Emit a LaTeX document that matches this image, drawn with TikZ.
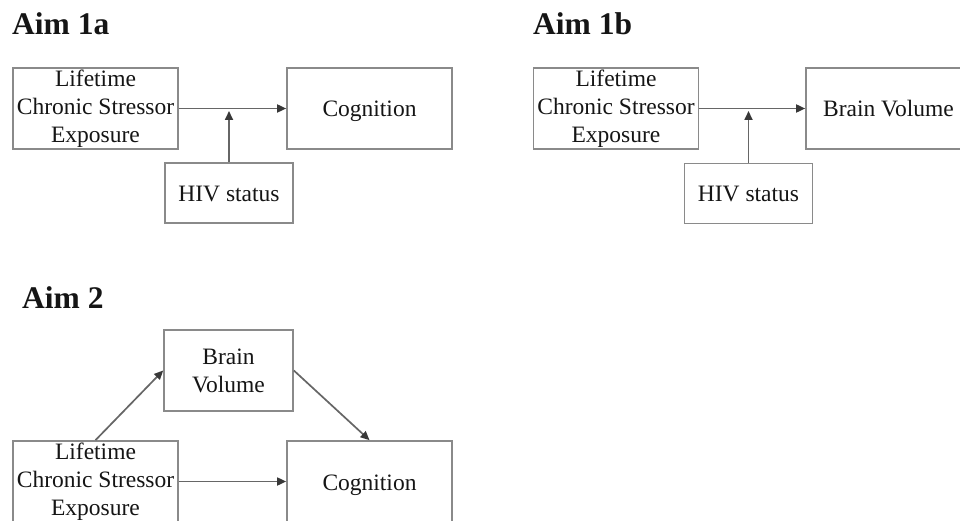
\documentclass[tikz,border=0pt]{standalone}
\usepackage{fontspec}
\setmainfont{Liberation Serif}
\usetikzlibrary{arrows.meta}
\definecolor{boxgray}{HTML}{8A8A8A}
\definecolor{linegray}{HTML}{666666}
\definecolor{ink}{HTML}{151515}
\begin{document}
\begin{tikzpicture}[x=1pt,y=-1pt,
  box/.style={draw=boxgray,line width=1.7pt,rectangle,inner sep=0pt,align=center,
    font=\fontsize{23.5}{28}\selectfont,text=ink},
  bigbox/.style={box,minimum width=165pt,minimum height=81pt},
  hivbox/.style={box,minimum width=128pt,minimum height=60pt},
  oneline/.style={text height=22pt,text depth=5pt},
  conn/.style={draw=linegray,line width=1.7pt,-{Triangle[length=9pt,width=8pt,color=ink!85]}},
  title/.style={font=\fontsize{31.5}{36}\selectfont\bfseries,text=ink,inner sep=0pt,anchor=base west}]
\useasboundingbox (0,0) rectangle (960,521);
\fill[white] (0,0) rectangle (960,521);
\clip (0,0) rectangle (960,521);

% Aim 1a
\node[title] (t1a) at (12,35) {Aim 1a};
\node[bigbox] (a1L) at (95.5,108.5) {Lifetime\\Chronic Stressor\\Exposure};
\node[bigbox,oneline] (a1C) at (369.5,108.5) {Cognition};
\node[hivbox,oneline] (a1H) at (229,193) {HIV status};
\coordinate (a1M) at (229,111);
\draw[conn] (a1L.east) -- (a1C.west);
\draw[conn] (a1H.north) -- (a1M);

% Aim 1b
\node[title] (t1b) at (533,35) {Aim 1b};
\node[bigbox] (b1L) at (616,108.5) {Lifetime\\Chronic Stressor\\Exposure};
\node[bigbox,oneline] (b1B) at (888.5,108.5) {Brain Volume};
\node[hivbox,oneline] (b1H) at (748.5,193.5) {HIV status};
\coordinate (b1M) at (748.5,111);
\draw[conn] (b1L.east) -- (b1B.west);
\draw[conn] (b1H.north) -- (b1M);

% Aim 2
\node[title] (t2) at (22,308) {Aim 2};
\node[box,minimum width=129pt,minimum height=81pt] (a2B) at (228.5,370.5) {Brain\\Volume};
\node[bigbox] (a2L) at (95.5,481.5) {Lifetime\\Chronic Stressor\\Exposure};
\node[bigbox,oneline] (a2C) at (369.5,481.5) {Cognition};
\draw[conn] (a2L.east) -- (a2C.west);
\draw[conn] (a2L.north) -- (a2B.west);
\draw[conn] (a2B.east) -- (a2C.north);
\end{tikzpicture}
\end{document}
